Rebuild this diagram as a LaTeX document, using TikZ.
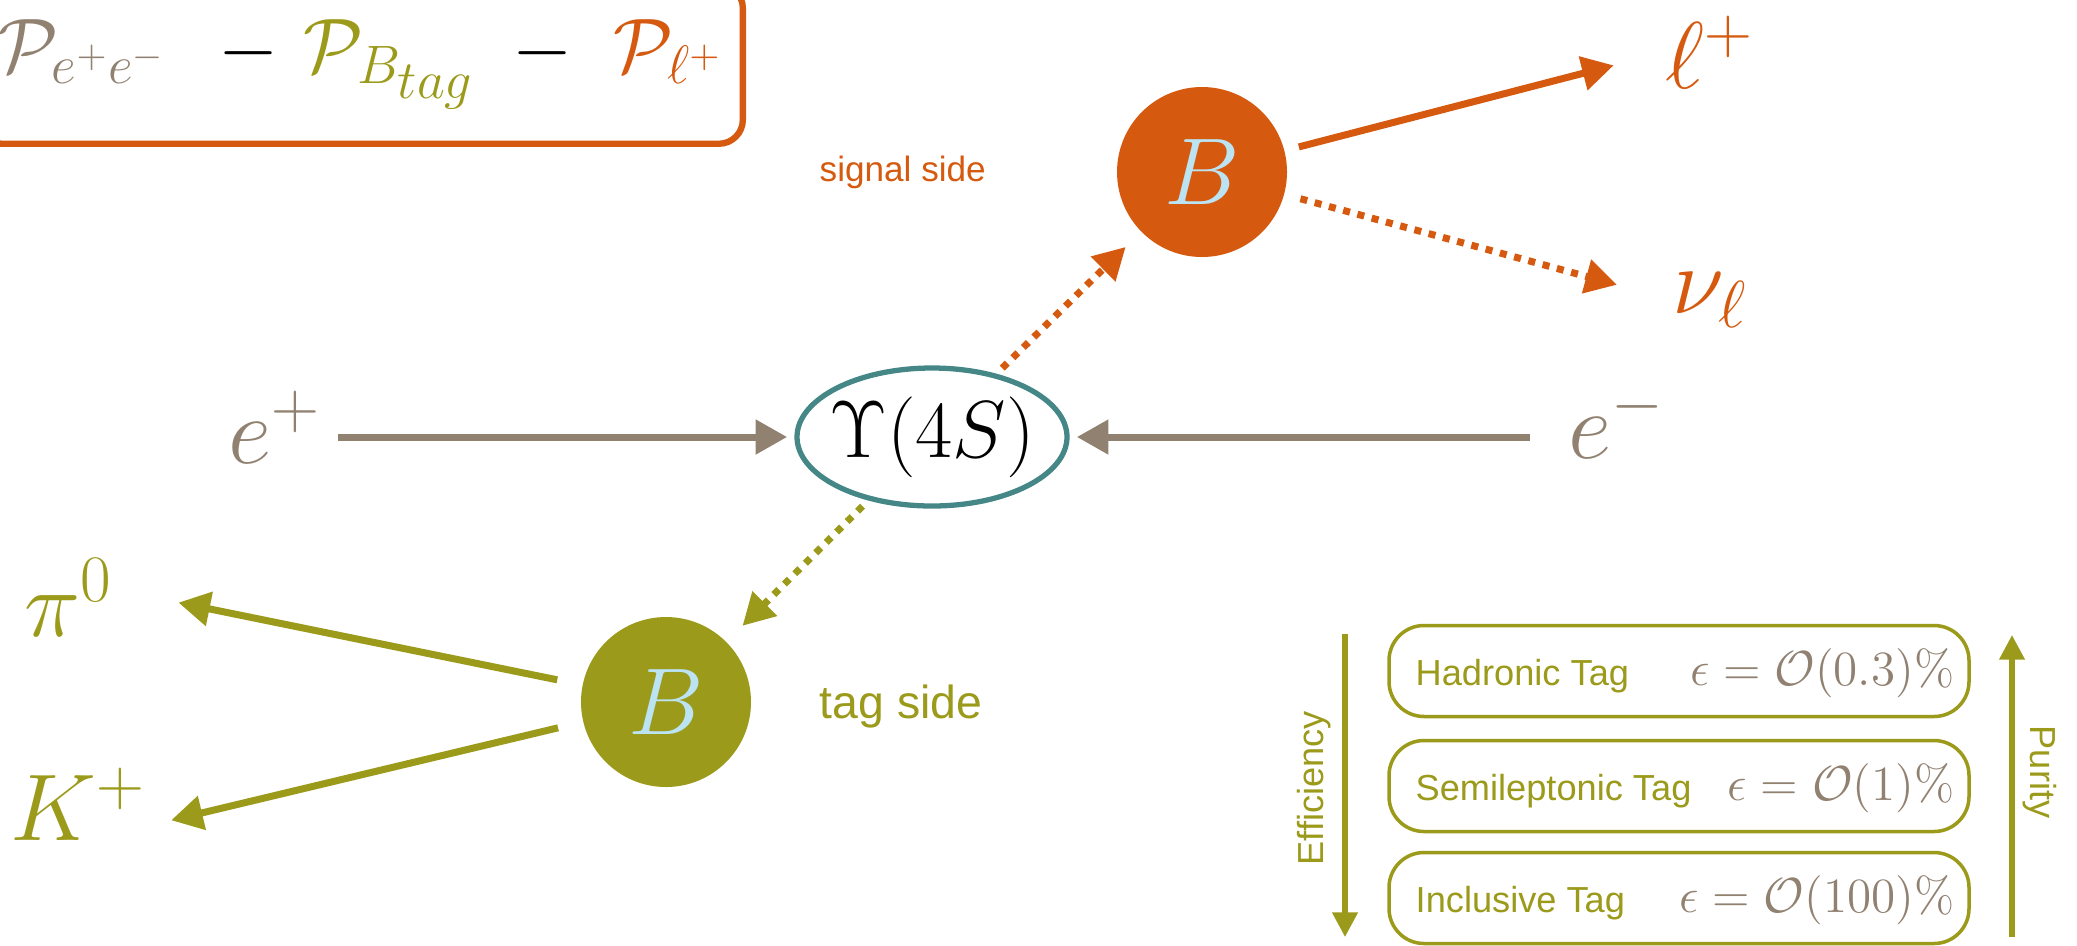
\RequirePackage{fix-cm}
\documentclass[tikz,border=0pt]{standalone}
\usepackage{amsmath,amssymb}
\usepackage{fontspec}
\setsansfont{Liberation Sans}
\usepackage{xcolor}
\usepackage{tikz}
\usetikzlibrary{arrows.meta,shapes.geometric,positioning}
\definecolor{lepton}{HTML}{D55A0F}
\definecolor{hadron}{HTML}{9B9A1B}
\definecolor{beam}{HTML}{918171}
\definecolor{reso}{HTML}{458787}
\definecolor{meson}{HTML}{BCE3F2}
\tikzset{
  bigtip/.style={-{Triangle[length=9pt,width=9.5pt]}},
  beamline/.style={draw=beam, line width=2pt, bigtip},
  decayline/.style={line width=2pt, bigtip},
  virtual/.style={line width=2pt, bigtip, dash pattern=on 2pt off 2.2pt},
  scaleline/.style={draw=hadron, line width=1.5pt, -{Triangle[length=7pt,width=7pt]}},
  blob/.style={
    circle, minimum size=17mm, inner sep=0pt, outer sep=0pt,
    text=meson, font=\fontsize{27}{30}\selectfont
  },
  particle/.style={inner sep=0pt, font=\fontsize{27}{30}\selectfont},
  sidelabel/.style={inner sep=0pt, font=\sffamily\fontsize{10.3}{12}\selectfont},
  tagbox/.style={
    draw=hadron, line width=1pt, rounded corners=3.5mm,
    minimum width=58mm, minimum height=9.1mm
  },
  tagmath/.style={inner sep=0pt, text=beam, font=\fontsize{14}{17}\selectfont}
}

\begin{document}
\begin{tikzpicture}[x=0.1mm, y=-0.1mm, line cap=butt]
  \useasboundingbox (0,0) rectangle (2077,945);

  % momentum balance (box runs off the page)
  \node[draw=lepton, line width=1.8pt, rounded corners=2.4mm,
        inner xsep=2mm, inner ysep=3.5mm, anchor=base east,
        font=\fontsize{22}{26}\selectfont] (rec) at (746,72)
    {$\textcolor{beam}{\mathcal{P}_{e^+e^-}}\mkern8mu-\mkern2mu
      \textcolor{hadron}{\mathcal{P}_{B_{\scriptstyle tag}}}\mkern4.5mu-\mkern5.5mu
      \textcolor{lepton}{\mathcal{P}_{\ell^+}}$};

  % resonance and beams
  \node[ellipse, draw=reso, line width=1.5pt, minimum width=27mm,
        minimum height=13.8mm, inner sep=0pt, outer sep=2.8pt,
        font=\fontsize{23}{26}\selectfont] (ups) at (932,437)
    {\makebox[0pt]{$\Upsilon(4S)$}};
  \node[particle, text=beam, anchor=base west] (ep) at (228,463) {$e^+$};
  \node[particle, text=beam, anchor=base west] (em) at (1568,458) {$e^-$};
  \draw[beamline, shorten <=1.6mm] (ep.east |- ups.west) -- (ups.west);
  \draw[beamline, shorten <=3.8mm] (em.west |- ups.east) -- (ups.east);

  % signal side
  \node[blob, fill=lepton] (bsig) at (1202,172) {$B$};
  \node[sidelabel, text=lepton, anchor=west,
        font=\sffamily\fontsize{10}{12}\selectfont] (sig) at (819,172) {signal side};
  \node[particle, text=lepton, anchor=base west] (lp) at (1665,88) {$\ell^+$};
  \node[particle, text=lepton, anchor=base west] (nu) at (1672,313) {$\nu_\ell$};
  \draw[virtual, lepton, shorten >=2.2mm] (ups) -- (bsig);
  \draw[decayline, lepton, shorten <=1.5mm, shorten >=5.3mm] (bsig) -- (lp.west);
  \draw[virtual, lepton, shorten <=1.7mm, shorten >=5.7mm] (bsig) -- (nu.west);

  % tag side
  \node[blob, fill=hadron] (btag) at (666,702) {$B$};
  \node[sidelabel, text=hadron, anchor=west,
        font=\sffamily\fontsize{13.2}{15}\selectfont] (tag) at (819,706) {tag side};
  \node[particle, text=hadron, anchor=base west] (pi) at (24,636) {$\pi^0$};
  \node[particle, text=hadron, anchor=base west] (kp) at (10,840) {$K^+$};
  \draw[virtual, hadron, shorten >=2.3mm] (ups) -- (btag);
  \draw[decayline, hadron, shorten <=2.6mm, shorten >=6.6mm]
    (btag) -- ([yshift=0.8mm]pi.east);
  \draw[decayline, hadron, shorten <=2.6mm, shorten >=2.5mm]
    (btag) -- ([yshift=-2.2mm]kp.east);

  % tagging methods
  \node[tagbox] (hadr) at (1679,671) {};
  \node[sidelabel, text=hadron, anchor=base west] (hadrname) at (1415,685) {Hadronic Tag};
  \node[tagmath, anchor=base east] (hadreff) at (1955,685) {$\epsilon = \mathcal{O}(0.3)\%$};
  \node[tagbox] (semi) at (1679,786) {};
  \node[sidelabel, text=hadron, anchor=base west] (seminame) at (1415,800) {Semileptonic Tag};
  \node[tagmath, anchor=base east] (semieff) at (1955,800) {$\epsilon = \mathcal{O}(1)\%$};
  \node[tagbox] (incl) at (1679,898) {};
  \node[sidelabel, text=hadron, anchor=base west] (inclname) at (1415,912) {Inclusive Tag};
  \node[tagmath, anchor=base east] (incleff) at (1955,912) {$\epsilon = \mathcal{O}(100)\%$};

  \coordinate (effTop) at (1345,634);
  \coordinate (effBot) at (1345,937);
  \coordinate (purBot) at (2012,937);
  \coordinate (purTop) at (2012,635);
  \draw[scaleline] (effTop) -- (effBot);
  \draw[scaleline] (purBot) -- (purTop);
  \node[sidelabel, text=hadron, rotate=90] (eff) at (1314,788) {Efficiency};
  \node[sidelabel, text=hadron, rotate=-90] (pur) at (2040,772) {Purity};
\end{tikzpicture}
\end{document}
